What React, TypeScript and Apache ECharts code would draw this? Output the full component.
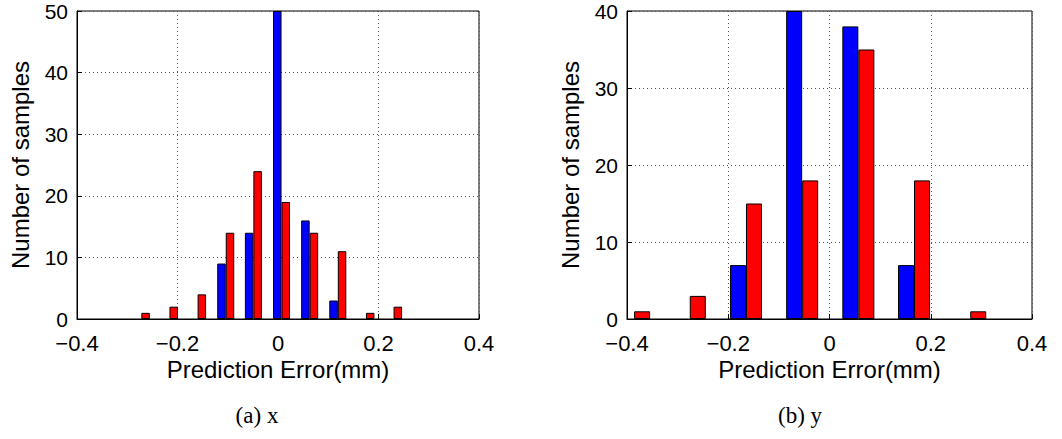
import React, { useEffect, useRef } from "react";
import * as echarts from "echarts";

// Left panel (a) x
const binCentersA = [-0.272, -0.216, -0.16, -0.104, -0.049, 0.007, 0.063, 0.119, 0.175, 0.23];
const blueCountsA = [0, 0, 0, 9, 14, 50, 16, 3, 0, 0];
const redCountsA = [1, 2, 4, 14, 24, 19, 14, 11, 1, 2];

// Right panel (b) y
const binCentersB = [-0.386, -0.276, -0.165, -0.054, 0.057, 0.167, 0.278];
const blueCountsB = [0, 0, 7, 40, 38, 7, 0];
const redCountsB = [1, 3, 15, 18, 35, 18, 1];

const xAxisTitle = "Prediction Error(mm)";
const yAxisTitle = "Number of samples";
const captions = ["(a) x", "(b) y"];
const yMaxes = [50, 40];

const SANS = "'Liberation Sans', Arial, Helvetica, sans-serif";
const SERIF = "'Liberation Serif', 'Times New Roman', serif";

const fmtX = (v: number) => {
  const r = Math.round(v * 10) / 10;
  if (r === 0) return "0";
  return (r < 0 ? "\u2212" : "") + Math.abs(r).toFixed(1);
};

const grids = [
  { left: 77, top: 11, width: 402, height: 308 },
  { left: 627, top: 11, width: 405, height: 308 },
];

export default function App() {
  const ref = useRef<HTMLDivElement>(null);
  useEffect(() => {
    if (!ref.current) return;
    const chart = echarts.init(ref.current, undefined, { renderer: "svg" });
    const splitLine = {
      show: true,
      lineStyle: { color: "#555", type: [1, 3] as any, width: 1 },
    };
    const tick = { show: true, inside: true, length: 5, lineStyle: { color: "#000" } };
    const xAxes = grids.map((_, i) => ({
      type: "value" as const,
      gridIndex: i,
      min: -0.4,
      max: 0.4,
      interval: 0.2,
      axisLine: { show: true, onZero: false, lineStyle: { color: "#000", width: 1 } },
      axisTick: tick,
      splitLine,
      axisLabel: {
        formatter: fmtX,
        color: "#000",
        fontSize: 22,
        lineHeight: 18,
        fontFamily: SANS,
        margin: 15,
      },
    }));
    const yAxes = grids.map((_, i) => ({
      type: "value" as const,
      gridIndex: i,
      min: 0,
      max: yMaxes[i],
      interval: 10,
      axisLine: { show: true, onZero: false, lineStyle: { color: "#000", width: 1 } },
      axisTick: tick,
      splitLine,
      axisLabel: {
        color: "#000",
        fontSize: 21,
        lineHeight: 16,
        fontFamily: SANS,
        margin: 9,
      },
    }));
    const mkBar = (idx: number, xs: number[], ys: number[], color: string, bw: number) => ({
      type: "bar" as const,
      xAxisIndex: idx,
      yAxisIndex: idx,
      data: xs.map((x, k) => [x, ys[k] === 0 ? "-" : ys[k]]),
      barWidth: bw,
      barGap: "0%",
      itemStyle: { color, borderColor: "#000", borderWidth: 1 },
      emphasis: { disabled: true },
    });
    const titleY = 369;
    const captionY = 415;
    chart.setOption({
      animation: false,
      backgroundColor: "#fff",
      grid: grids.map((g) => ({
        ...g,
        show: true,
        borderColor: "#000",
        borderWidth: 1,
        backgroundColor: "transparent",
      })),
      xAxis: xAxes,
      yAxis: yAxes,
      series: [
        mkBar(0, binCentersA, blueCountsA, "#0000ff", 8.5),
        mkBar(0, binCentersA, redCountsA, "#ff0000", 8.5),
        mkBar(1, binCentersB, blueCountsB, "#0000ff", 16),
        mkBar(1, binCentersB, redCountsB, "#ff0000", 16),
      ],
      graphic: [
        ...grids.map((g) => ({
          type: "text",
          x: g.left + g.width / 2,
          y: titleY,
          style: {
            text: xAxisTitle,
            fill: "#000",
            font: `24px ${SANS}`,
            align: "center",
            verticalAlign: "middle",
          },
        })),
        ...grids.map((g) => ({
          type: "text",
          x: g.left - 57,
          y: g.top + g.height / 2,
          rotation: Math.PI / 2,
          style: {
            text: yAxisTitle,
            fill: "#000",
            font: `24px ${SANS}`,
            align: "center",
            verticalAlign: "middle",
          },
        })),
        ...[257, 800].map((cx, i) => ({
          type: "text",
          x: cx,
          y: captionY,
          style: {
            text: captions[i],
            fill: "#000",
            font: `23px ${SERIF}`,
            align: "center",
            verticalAlign: "middle",
          },
        })),
      ],
    });
    return () => chart.dispose();
  }, []);
  return (
    <div
      ref={ref}
      style={{ position: "fixed", left: 0, top: 0, width: 1062, height: 439, background: "#fff" }}
    />
  );
}
